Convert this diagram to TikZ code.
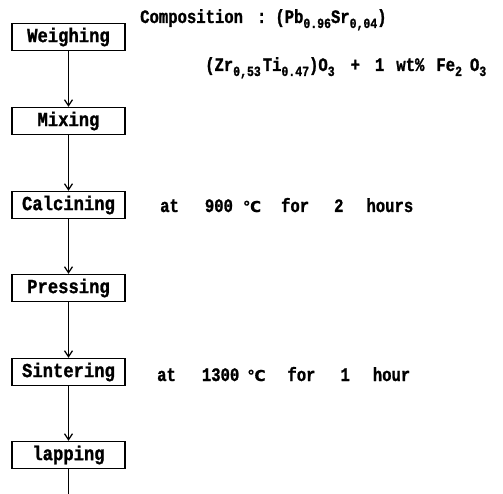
\documentclass[tikz,border=0pt]{standalone}
\usepackage{fontspec}
\usetikzlibrary{arrows.meta}
\newfontfamily\monof[FakeStretch=0.82,BoldFeatures={FakeBold=1.2}]{Liberation Mono}
\newfontfamily\monob[FakeStretch=0.86,BoldFeatures={FakeBold=1.2}]{Liberation Mono}
\newfontfamily\symf[BoldFeatures={FakeBold=0.8}]{DejaVu Sans}
\newcommand\boxt{\monob\bfseries\fontsize{20}{20}\selectfont}
\newcommand\bigt{\monof\bfseries\fontsize{19}{19}\selectfont}
\newcommand\subt[1]{\raisebox{-5pt}{\monof\bfseries\fontsize{14}{14}\selectfont #1}}
\newcommand\degc{{\symf\bfseries\fontsize{15}{15}\selectfont ℃}}
\newcommand\gap[1]{\hspace*{#1pt}}
\begin{document}
\begin{tikzpicture}[x=1pt,y=-1pt,
  stepbox/.style={draw, line width=1.3pt, minimum width=113pt, minimum height=27pt, inner sep=0pt, font=\boxt},
  flow/.style={-{Straight Barb[length=6pt,width=8pt,line width=1.3pt]}, line width=1.3pt},
  plain/.style={line width=1.3pt},
  note/.style={anchor=base west, inner sep=0pt, font=\bigt}]
\useasboundingbox (0,0) rectangle (503,494);
\node[stepbox] (w) at (68.5,37) {Weighing};
\node[stepbox] (m) at (68.5,121) {Mixing};
\node[stepbox] (c) at (68.5,205) {Calcining};
\node[stepbox] (p) at (68.5,288) {Pressing};
\node[stepbox] (s) at (68.5,372) {Sintering};
\node[stepbox] (l) at (68.5,455) {lapping};
\coordinate (end) at (68.5,494);
\draw[flow] (w) -- (m);
\draw[flow] (m) -- (c);
\draw[flow] (c) -- (p);
\draw[flow] (p) -- (s);
\draw[flow] (s) -- (l);
\draw[plain] (l) -- (end);
\node[note] (comp) at (140,23) {Composition\gap{14}:\gap{9}(Pb\subt{0.96}Sr\subt{0,04})};
\node[note] (form) at (205,71) {(Zr\subt{0,53}\gap{2}Ti\subt{0.47})O\subt{3}\gap{16}+\gap{15}1\gap{12}wt\%\gap{12}Fe\subt{2}\gap{8}O\subt{3}};
\node[note] (calc) at (160,212) {at\gap{26}900\gap{10}\degc\gap{20}for\gap{25}2\gap{23}hours};
\node[note] (sint) at (157,381) {at\gap{26}1300\gap{8}\degc\gap{22}for\gap{25}1\gap{23}hour};
\end{tikzpicture}
\end{document}
